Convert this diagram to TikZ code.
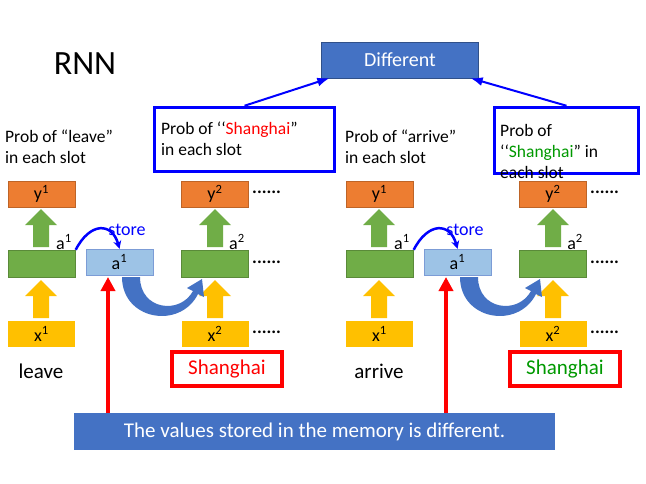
\documentclass[tikz,border=0pt]{standalone}
\usepackage{fontspec}
\setmainfont{Carlito}
\usetikzlibrary{arrows.meta}
\definecolor{og}{HTML}{ED7D31}
\definecolor{gr}{HTML}{70AD47}
\definecolor{yl}{HTML}{FFC000}
\definecolor{lb}{HTML}{9DC3E6}
\definecolor{db}{HTML}{4472C4}
\begin{document}
\begin{tikzpicture}[x=1pt,y=-1pt,
 box/.style={minimum width=67pt,minimum height=26pt,inner sep=0pt,font=\fontsize{18}{18}\selectfont},
 yb/.style={box,fill=og,draw=og!80!black},
 ab/.style={box,fill=gr,draw=gr!80!black,minimum height=27pt},
 xb/.style={box,fill=yl},
 mb/.style={box,fill=lb,draw=db!70},
 lab/.style={font=\fontsize{17.5}{21}\selectfont,align=left,inner sep=0pt,anchor=west},
 dots/.style={font=\fontsize{18}{18}\selectfont\bfseries,inner sep=0pt,anchor=west},
 blk/.pic={\fill[pic actions] (-8,0) -- (-8,-22) -- (-16,-22) -- (0,-38) -- (16,-22) -- (8,-22) -- (8,0) -- cycle;}]
\useasboundingbox (0,0) rectangle (646,483);
\fill[white] (0,0) rectangle (646,483);
\node[font=\fontsize{34}{34}\selectfont] (rnn) at (85,64) {RNN};
\node[fill=db,draw=db!70!black,minimum width=157pt,minimum height=36pt,text=white,font=\fontsize{20}{20}\selectfont] (diff) at (400,60) {Different};
\node[lab] (p1) at (5,147) {Prob of “leave”\\in each slot};
\node[lab] (p3) at (345,147) {Prob of “arrive”\\in each slot};
\node[draw=blue,line width=3.5pt,minimum width=180pt,minimum height=64pt] (b1) at (244.5,139.5) {};
\node[lab] (p2) at (161,139) {Prob of ‘‘\textcolor{red}{Shanghai}”\\in each slot};
\node[draw=blue,line width=3.5pt,minimum width=144pt,minimum height=66pt] (b2) at (566.5,140.5) {};
\node[lab] (p4) at (500,151) {Prob of\\‘‘\textcolor{green!60!black}{Shanghai}” in\\each slot};
\draw[blue,line width=2pt,-{Latex[length=12pt,width=9pt]}] (b1.north) -- ([xshift=8pt]diff.south west);
\draw[blue,line width=2pt,-{Latex[length=12pt,width=9pt]}] (b2.north) -- ([xshift=-8pt]diff.south east);
\foreach \o/\n/\w/\c in {0/L/leave/red,338/R/arrive/green!60!black}{
 \begin{scope}[xshift=\o pt]
 \node[yb] (y1\n) at (41.5,194) {y\textsuperscript{1}};
 \node[ab] (a1\n) at (42,263.5) {};
 \node[xb] (x1\n) at (41.5,334) {x\textsuperscript{1}};
 \pic[fill=gr] at (41,247) {blk};
 \pic[fill=yl] at (41,318) {blk};
 \node[font=\fontsize{18}{18}\selectfont] (a1l\n) at (64,242) {a\textsuperscript{1}};
 \node[font=\fontsize{21}{21}\selectfont] (w\n) at (41,371) {\w};
 \node[mb] (m\n) at (119.5,262) {a\textsuperscript{1}};
 \node[text=blue,font=\fontsize{18}{18}\selectfont] (st\n) at (127,230) {store};
 \draw[blue,line width=2.5pt,-{Stealth[length=8pt,width=8pt]}] (a1\n.north east) .. controls (90,222) and (112,222) .. (m\n.north);
 \node[yb] (y2\n) at (215,194) {y\textsuperscript{2}};
 \node[ab] (a2\n) at (215,263.5) {};
 \node[xb] (x2\n) at (215,334) {x\textsuperscript{2}};
 \pic[fill=gr] at (215,247) {blk};
 \pic[fill=yl] at (215,318) {blk};
 \node[font=\fontsize{18}{18}\selectfont] (a2l\n) at (237,242) {a\textsuperscript{2}};
 \node[dots] (d1\n) at (252,192) {......};
 \node[dots] (d2\n) at (252,262) {......};
 \node[dots] (d3\n) at (252,332) {......};
 \node[draw=red,line width=3.5pt,minimum width=110pt,minimum height=34pt,text=\c,font=\fontsize{21}{21}\selectfont] (s\n) at (227,369) {Shanghai};
 \fill[db] (122,277) -- (140,277) .. controls (140,310) and (180,315) .. (193,291) -- (187,288) -- (202,279) -- (204,297) -- (198,294) .. controls (180,330) and (122,320) .. (122,277) -- cycle;
 \end{scope}}
\node[fill=db,minimum width=481pt,minimum height=37pt,text=white,font=\fontsize{21}{21}\selectfont] (bot) at (314.5,431.5) {The values stored in the memory is different.};
\draw[red,line width=3.5pt,-{Triangle[length=14pt,width=14pt]}] (108,413) -- (108,277);
\draw[red,line width=3.5pt,-{Triangle[length=14pt,width=14pt]}] (446,413) -- (446,277);
\end{tikzpicture}
\end{document}
